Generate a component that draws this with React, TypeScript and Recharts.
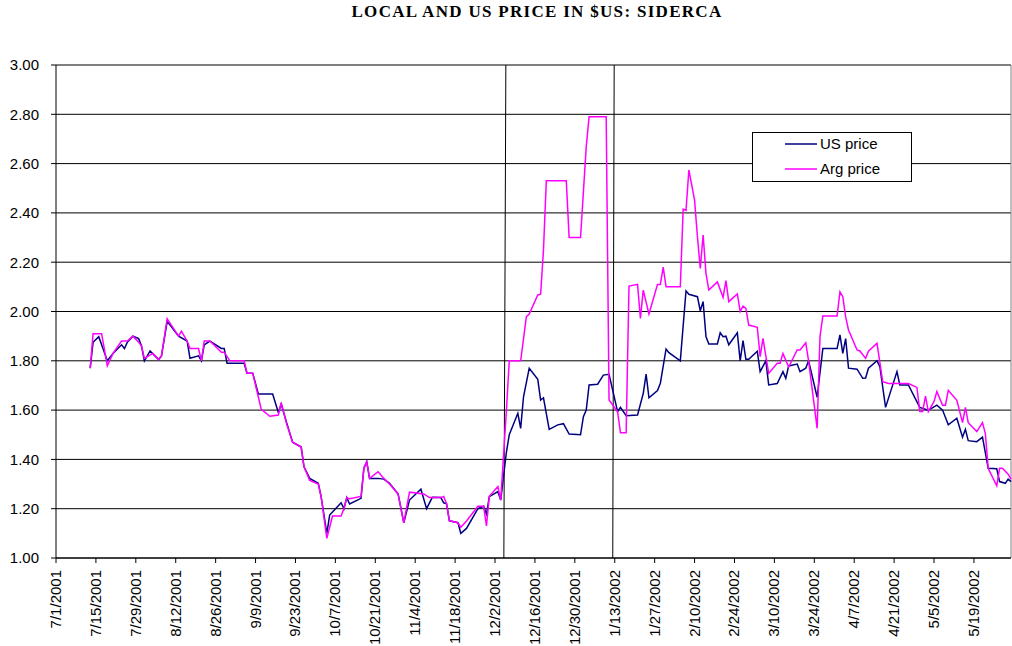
import React from 'react';
import { LineChart, Line, XAxis, YAxis, CartesianGrid, ReferenceLine } from 'recharts';

// days counted from 7/1/2001
const tickLabels = [
  '7/1/2001', '7/15/2001', '7/29/2001', '8/12/2001', '8/26/2001', '9/9/2001',
  '9/23/2001', '10/7/2001', '10/21/2001', '11/4/2001', '11/18/2001', '12/2/2001',
  '12/16/2001', '12/30/2001', '1/13/2002', '1/27/2002', '2/10/2002', '2/24/2002',
  '3/10/2002', '3/24/2002', '4/7/2002', '4/21/2002', '5/5/2002', '5/19/2002',
];
const tickDays = tickLabels.map((_, i) => i * 14);
const yTicks = [1.0, 1.2, 1.4, 1.6, 1.8, 2.0, 2.2, 2.4, 2.6, 2.8, 3.0];

const usDays = [
  12, 13, 15, 18, 20, 23, 24, 25, 27, 29, 30, 31, 33, 36, 37, 39, 43, 46, 47, 50,
  51, 52, 54, 58, 59, 60, 66, 67, 69, 71, 76, 78, 79, 81, 83, 86, 87, 89, 92, 93,
  95, 96, 100, 101, 102, 103, 107, 108, 109, 110, 113, 115, 117, 120, 122, 124, 128, 130, 132, 135,
  136, 137, 138, 141, 142, 144, 148, 150, 151, 152, 155, 156, 158, 159, 162, 163, 164, 166, 169, 170,
  171, 173, 176, 178, 180, 184, 185, 186, 187, 190, 192, 194, 197, 198, 200, 204, 206, 207, 208, 211,
  212, 214, 215, 219, 221, 222, 225, 226, 227, 228, 229, 232, 233, 234, 235, 236, 239, 240, 241, 242,
  243, 246, 247, 249, 250, 253, 255, 256, 257, 260, 261, 263, 264, 267, 269, 274, 275, 276, 277, 278,
  281, 283, 284, 285, 288, 289, 291, 295, 296, 299, 303, 306, 309, 311, 313, 316, 318, 319, 320, 323,
  325, 327, 330, 331, 333, 334, 335,
];
const usPrice = [
  1.77, 1.875, 1.898, 1.8, 1.83, 1.865, 1.85, 1.875, 1.9, 1.89, 1.86, 1.8, 1.84, 1.805, 1.82, 1.96, 1.9, 1.88, 1.81, 1.82,
  1.8, 1.865, 1.88, 1.85, 1.85, 1.79, 1.79, 1.75, 1.75, 1.665, 1.665, 1.59, 1.625, 1.545, 1.47, 1.45, 1.37, 1.323, 1.303, 1.249,
  1.1, 1.174, 1.224, 1.2, 1.245, 1.219, 1.242, 1.364, 1.39, 1.323, 1.323, 1.32, 1.303, 1.26, 1.143, 1.235, 1.279, 1.2, 1.246, 1.245,
  1.224, 1.22, 1.151, 1.143, 1.1, 1.12, 1.2, 1.21, 1.178, 1.249, 1.269, 1.235, 1.43, 1.5, 1.587, 1.526, 1.654, 1.77, 1.725, 1.641,
  1.65, 1.522, 1.54, 1.545, 1.503, 1.5, 1.573, 1.6, 1.702, 1.705, 1.742, 1.745, 1.594, 1.611, 1.577, 1.58, 1.668, 1.746, 1.65, 1.679,
  1.709, 1.848, 1.833, 1.8, 2.084, 2.07, 2.06, 2.003, 2.04, 1.898, 1.868, 1.868, 1.914, 1.898, 1.9, 1.865, 1.914, 1.8, 1.882, 1.806,
  1.806, 1.839, 1.756, 1.8, 1.702, 1.708, 1.756, 1.729, 1.779, 1.787, 1.756, 1.77, 1.8, 1.652, 1.85, 1.85, 1.905, 1.83, 1.89, 1.77,
  1.766, 1.729, 1.73, 1.77, 1.8, 1.776, 1.611, 1.756, 1.702, 1.702, 1.611, 1.6, 1.62, 1.6, 1.54, 1.567, 1.49, 1.522, 1.476, 1.472,
  1.49, 1.364, 1.362, 1.31, 1.303, 1.32, 1.31,
];

const argDays = [
  12, 13, 16, 18, 20, 23, 25, 27, 29, 30, 31, 34, 36, 37, 39, 43, 44, 46, 47, 50,
  51, 52, 54, 58, 59, 61, 66, 67, 69, 72, 75, 78, 79, 81, 83, 86, 87, 89, 92, 93,
  95, 97, 100, 101, 102, 103, 107, 108, 109, 110, 113, 115, 117, 120, 122, 124, 129, 131, 135, 136,
  137, 138, 141, 142, 144, 148, 150, 151, 152, 155, 156, 158, 159, 163, 165, 166, 169, 170, 171, 172,
  179, 180, 184, 186, 187, 193, 194, 197, 198, 200, 201, 204, 205, 206, 208, 211, 212, 213, 214, 219,
  220, 221, 222, 224, 225, 226, 227, 228, 229, 232, 234, 235, 236, 239, 240, 241, 242, 243, 246, 247,
  248, 250, 253, 254, 255, 257, 260, 261, 263, 264, 267, 268, 269, 274, 275, 276, 277, 278, 281, 282,
  284, 285, 288, 290, 292, 299, 302, 303, 304, 305, 306, 308, 309, 311, 312, 313, 316, 318, 319, 320,
  323, 325, 326, 327, 330, 331, 332, 334, 335,
];
const argPrice = [
  1.77, 1.91, 1.91, 1.78, 1.83, 1.88, 1.88, 1.9, 1.875, 1.86, 1.81, 1.83, 1.805, 1.82, 1.97, 1.9, 1.92, 1.88, 1.85, 1.85,
  1.8, 1.88, 1.88, 1.835, 1.835, 1.8, 1.8, 1.75, 1.75, 1.603, 1.575, 1.58, 1.63, 1.54, 1.47, 1.45, 1.37, 1.315, 1.3, 1.249,
  1.08, 1.17, 1.17, 1.2, 1.245, 1.24, 1.25, 1.364, 1.39, 1.323, 1.35, 1.323, 1.3, 1.26, 1.143, 1.267, 1.26, 1.245, 1.245, 1.25,
  1.22, 1.151, 1.143, 1.125, 1.15, 1.21, 1.21, 1.13, 1.25, 1.29, 1.235, 1.6, 1.8, 1.8, 1.979, 1.99, 2.067, 2.07, 2.25, 2.53,
  2.53, 2.3, 2.3, 2.669, 2.79, 2.79, 1.641, 1.593, 1.508, 1.508, 2.103, 2.11, 1.972, 2.087, 1.99, 2.11, 2.11, 2.18, 2.1, 2.1,
  2.415, 2.41, 2.574, 2.452, 2.304, 2.175, 2.31, 2.155, 2.087, 2.12, 2.057, 2.125, 2.04, 2.071, 2.0, 2.022, 2.013, 1.945, 1.936, 1.817,
  1.891, 1.749, 1.79, 1.79, 1.83, 1.775, 1.844, 1.844, 1.873, 1.8, 1.526, 1.898, 1.982, 1.982, 2.08, 2.06, 1.978, 1.925, 1.844, 1.84,
  1.81, 1.839, 1.871, 1.715, 1.708, 1.708, 1.692, 1.594, 1.594, 1.657, 1.594, 1.635, 1.675, 1.62, 1.62, 1.68, 1.64, 1.549, 1.611, 1.549,
  1.513, 1.549, 1.505, 1.364, 1.293, 1.364, 1.364, 1.34, 1.32,
];

// the two hand-drawn vertical markers (slightly slanted in the original)
const markerLines = [
  [157.1, 157.8],
  [195.3, 195.8],
];

const usData = usDays.map((day, i) => ({ day, value: usPrice[i] }));
const argData = argDays.map((day, i) => ({ day, value: argPrice[i] }));

const font = '"Liberation Sans", Arial, sans-serif';

function DateTick({ x, y, index }: any): JSX.Element {
  return (
    <text
      transform={`translate(${x + 5},${y + 5}) rotate(-90)`}
      textAnchor="end"
      fontSize={15}
      fontFamily={font}
      fill="#000"
    >
      {tickLabels[index]}
    </text>
  );
}

export default function App(): JSX.Element {
  return (
    <div style={{ position: 'absolute', left: 0, top: 0, width: 1012, height: 646, background: '#fff' }}>
      <div
        style={{
          position: 'absolute',
          left: 0,
          width: 1074,
          top: 2,
          textAlign: 'center',
          fontFamily: '"Liberation Serif", "Times New Roman", serif',
          fontWeight: 'bold',
          fontSize: 17,
          letterSpacing: 1.3,
        }}
      >
        LOCAL AND US PRICE IN $US: SIDERCA
      </div>
      <LineChart width={1012} height={646} data={usData} margin={{ top: 65, right: 1, bottom: 0, left: 0 }}>
        <CartesianGrid vertical={false} stroke="#000" />
        <XAxis
          dataKey="day"
          type="number"
          domain={[0, 335]}
          ticks={tickDays}
          interval={0}
          height={88}
          stroke="#000"
          tickSize={5}
          tick={<DateTick />}
        />
        <YAxis
          type="number"
          domain={[1, 3]}
          ticks={yTicks}
          width={56}
          stroke="#000"
          tickSize={5}
          tickMargin={12}
          tickFormatter={(v: number) => v.toFixed(2)}
          tick={{ fontSize: 15, fontFamily: font, fill: '#000' }}
        />
        <ReferenceLine y={3} stroke="#808080" />
        <ReferenceLine x={335} stroke="#808080" />
        {markerLines.map(([a, b], i) => (
          <ReferenceLine key={i} segment={[{ x: a, y: 1 }, { x: b, y: 3 }]} stroke="#000" />
        ))}
        <Line data={usData} dataKey="value" name="US price" stroke="#000080" strokeWidth={1.5} dot={false} isAnimationActive={false} />
        <Line data={argData} dataKey="value" name="Arg price" stroke="#ff00ff" strokeWidth={1.5} dot={false} isAnimationActive={false} />
      </LineChart>
      <div
        style={{
          position: 'absolute',
          left: 752,
          top: 132,
          width: 158,
          height: 48,
          border: '1px solid #000',
          background: '#fff',
          fontFamily: font,
          fontSize: 15,
        }}
      >
        {[
          { label: 'US price', color: '#000080' },
          { label: 'Arg price', color: '#ff00ff' },
        ].map((s, i) => (
          <div key={s.label} style={{ position: 'absolute', left: 32, top: 0.5 + i * 25, height: 20, display: 'flex', alignItems: 'center' }}>
            <svg width={32} height={4} style={{ marginRight: 3 }}>
              <line x1={0} y1={2} x2={32} y2={2} stroke={s.color} strokeWidth={1.5} />
            </svg>
            <span>{s.label}</span>
          </div>
        ))}
      </div>
    </div>
  );
}
